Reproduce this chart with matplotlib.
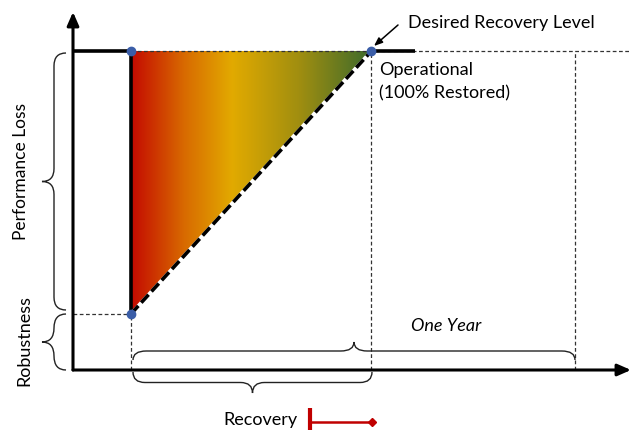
import numpy as np
import matplotlib.pyplot as plt
from matplotlib.path import Path
from matplotlib.patches import PathPatch, Polygon
from matplotlib.colors import LinearSegmentedColormap

plt.rcParams['font.family'] = ['Lato', 'DejaVu Sans']

# time in months after the disruption, performance in %
t_shock = 0.0
t_recovered = 6.5
t_one_year = 12.0
perf_full = 100.0
perf_robust = 17.6

# gradient colours of the loss triangle (red -> gold -> green)
grad_colors = ["#c40a00", "#d86a00", "#e2aa00", "#a08e10", "#3c6a2c"]
grad_stops = [0.0, 0.22, 0.42, 0.7, 1.0]

fig = plt.figure(figsize=(6.31, 4.30), dpi=100)
ax = fig.add_axes([0, 0, 1, 1])
# 37 px per month, 3.19 px per % ; shock at px 131, zero perf at py 370
ax.set_xlim((0 - 131) / 37, (631 - 131) / 37)
ax.set_ylim((370 - 430) / 3.19, (370 - 0) / 3.19)
ax.axis("off")

px2t = lambda px: (px - 131) / 37
py2p = lambda py: (370 - py) / 3.19

x0 = px2t(73)      # y-axis position
x_end = px2t(631)
y_top = py2p(12)

# axes arrows
ax.annotate("", xy=(x0, y_top), xytext=(x0, 0),
            arrowprops=dict(arrowstyle="-|>,head_length=0.8,head_width=0.35",
                            color="black", lw=2.2, shrinkA=0, shrinkB=0))
ax.annotate("", xy=(x_end, 0), xytext=(x0, 0),
            arrowprops=dict(arrowstyle="-|>,head_length=0.8,head_width=0.35",
                            color="black", lw=2.2, shrinkA=0, shrinkB=0))

# gradient triangle
cmap = LinearSegmentedColormap.from_list("loss", list(zip(grad_stops, grad_colors)))
grad = np.linspace(0, 1, 256).reshape(1, -1)
im = ax.imshow(grad, cmap=cmap, aspect="auto",
               extent=[t_shock, t_recovered, perf_robust, perf_full], zorder=1)
tri = Polygon([[t_shock, perf_full], [t_shock, perf_robust], [t_recovered, perf_full]],
              closed=True, facecolor="none", edgecolor="none")
ax.add_patch(tri)
im.set_clip_path(tri)

# thin dashed guides
dash = dict(ls=(0, (3, 2)), color="#333333", lw=0.9, zorder=2)
ax.plot([t_shock, x_end], [perf_full, perf_full], **dash)
ax.plot([t_recovered, t_recovered], [0, perf_full], **dash)
ax.plot([t_one_year, t_one_year], [0, perf_full], **dash)
ax.plot([t_shock, t_shock], [0, perf_robust], **dash)
ax.plot([x0, t_shock], [perf_robust, perf_robust], **dash)

# performance curve
ax.plot([x0, t_shock], [perf_full, perf_full], color="black", lw=2.6, zorder=3, solid_capstyle="butt")
ax.plot([t_shock, t_shock], [perf_full, perf_robust], color="black", lw=2.6, zorder=3)
ax.plot([t_shock, t_recovered], [perf_robust, perf_full], color="white", lw=2.6, zorder=3)
ax.plot([t_shock, t_recovered], [perf_robust, perf_full], color="black", lw=2.6,
        ls=(0, (3, 1.2)), zorder=4)
ax.plot([t_recovered, px2t(415)], [perf_full, perf_full], color="black", lw=2.6,
        zorder=3, solid_capstyle="butt")
ax.plot([t_shock, t_shock, t_recovered], [perf_full, perf_robust, perf_full], "o",
        color="#3b5ea8", ms=6, zorder=5)


def brace(a0, a1, base, depth, horizontal=True, r=0.12, **kw):
    """curly brace from a0 to a1 along one axis, at `base`, tip at base+depth"""
    am = (a0 + a1) / 2
    ra = min(r * abs(a1 - a0), abs(a1 - a0) / 4)
    s = np.sign(a1 - a0)
    h = base + depth / 2
    pts = [(a0, base), (a0, h), (a0 + s * ra, h),
           (am - s * ra, h), (am, h), (am, base + depth),
           (am, h), (am + s * ra, h),
           (a1 - s * ra, h), (a1, h), (a1, base)]
    codes = [Path.MOVETO, Path.CURVE3, Path.CURVE3,
             Path.LINETO, Path.CURVE3, Path.CURVE3,
             Path.CURVE3, Path.CURVE3,
             Path.LINETO, Path.CURVE3, Path.CURVE3]
    if not horizontal:
        pts = [(p[1], p[0]) for p in pts]
    ax.add_patch(PathPatch(Path(pts, codes), fill=False, **kw))


bk = dict(edgecolor="#222222", lw=1.0, zorder=3)
# Performance Loss / Robustness braces (vertical)
brace(py2p(53), py2p(310), px2t(66), px2t(42) - px2t(66), horizontal=False, r=0.05, **bk)
brace(py2p(314), py2p(370), px2t(66), px2t(42) - px2t(66), horizontal=False, r=0.3, **bk)
# One Year brace (above axis) and Recovery brace (below axis)
brace(px2t(133), px2t(575), py2p(360), py2p(342) - py2p(360), r=0.03, **bk)
brace(px2t(133), px2t(372), py2p(372), py2p(393) - py2p(372), r=0.05, **bk)

# labels
fs = 13
ax.text(px2t(21), py2p(171), "Performance Loss", rotation=90, ha="center", va="center", fontsize=12.5)
ax.text(px2t(24), py2p(341), "Robustness", rotation=90, ha="center", va="center", fontsize=fs)
ax.text(px2t(446), py2p(326), "One Year", style="italic", ha="center", va="center", fontsize=fs)
ax.text(px2t(379), py2p(70), "Operational", ha="left", va="center", fontsize=fs)
ax.text(px2t(379), py2p(93), "(100% Restored)", ha="left", va="center", fontsize=fs)
ax.text(px2t(408), py2p(23), "Desired Recovery Level", ha="left", va="center", fontsize=fs)
ax.annotate("", xy=(px2t(374), py2p(46)), xytext=(px2t(398), py2p(25)),
            arrowprops=dict(arrowstyle="-|>,head_length=0.5,head_width=0.2",
                            color="black", lw=1.1, shrinkA=0, shrinkB=0))
ax.text(px2t(298), py2p(420), "Recovery", ha="right", va="center", fontsize=fs)

# red recovery marker
red = "#c00000"
ax.plot([px2t(310), px2t(310)], [py2p(408), py2p(432)], color=red, lw=3, zorder=3,
        solid_capstyle="butt", clip_on=False)
ax.plot([px2t(310), px2t(372)], [py2p(422), py2p(422)], color=red, lw=1.8, zorder=3)
ax.plot([px2t(372)], [py2p(422)], "D", color=red, ms=4.5, zorder=3)

fig.savefig("out.png", dpi=100)
